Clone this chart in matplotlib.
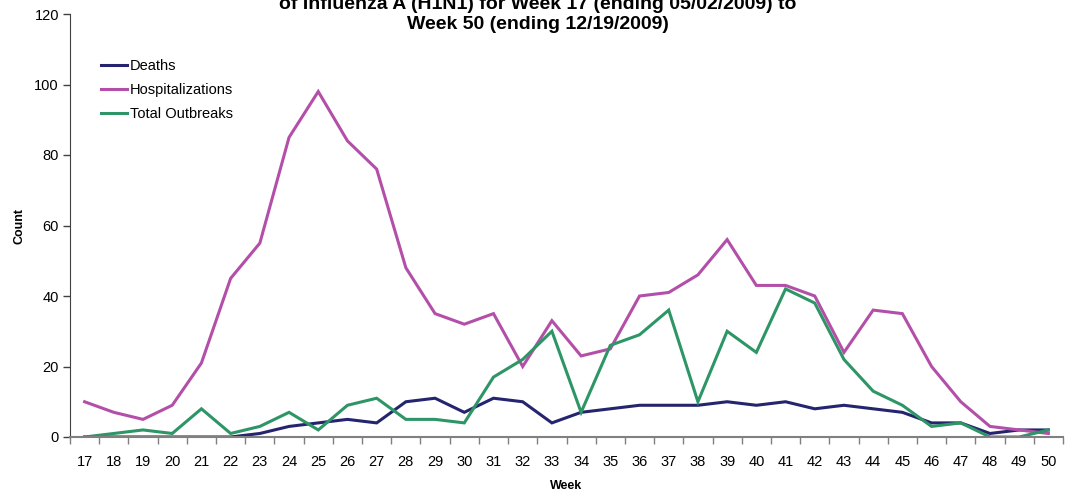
import matplotlib
matplotlib.use("Agg")
import matplotlib.pyplot as plt
import numpy as np

plt.rcParams['font.family'] = ['Liberation Sans', 'DejaVu Sans']

weeks = [str(w) for w in range(17, 51)]
deaths = [0, 0, 0, 0, 0, 0, 1, 3, 4, 5, 4, 10, 11, 7, 11, 10, 4,
          7, 8, 9, 9, 9, 10, 9, 10, 8, 9, 8, 7, 4, 4, 1, 2, 2]
hospitalizations = [10, 7, 5, 9, 21, 45, 55, 85, 98, 84, 76, 48, 35, 32, 35, 20, 33,
                    23, 25, 40, 41, 46, 56, 43, 43, 40, 24, 36, 35, 20, 10, 3, 2, 1]
outbreaks = [0, 1, 2, 1, 8, 1, 3, 7, 2, 9, 11, 5, 5, 4, 17, 22, 30,
             7, 26, 29, 36, 10, 30, 24, 42, 38, 22, 13, 9, 3, 4, 0, 0, 2]
series_names = ["Deaths", "Hospitalizations", "Total Outbreaks"]
yticks = [0, 20, 40, 60, 80, 100, 120]
title = ("Number of Confirmed Cases\n"
         "of Influenza A (H1N1) for Week 17 (ending 05/02/2009) to\n"
         "Week 50 (ending 12/19/2009)")

fig = plt.figure(figsize=(10.65, 5.0), dpi=100)
ax = fig.add_axes([70/1065, 1-437/500, 993/1065, 423/500])

x = np.arange(len(weeks))
colors = ["#25256F", "#B44FA9", "#2E9566"]
for vals, name, c in zip([deaths, hospitalizations, outbreaks], series_names, colors):
    ax.plot(x, vals, color=c, lw=2.2, label=name, solid_joinstyle='miter')

ax.set_xlim(-0.5, len(weeks) - 0.5)
ax.set_ylim(0, 120)
ax.set_yticks(yticks)
ax.set_yticklabels([str(t) for t in yticks], fontsize=10.5)
ax.set_xticks(x)
ax.set_xticklabels(weeks, fontsize=10.5)
ax.set_xticks(np.arange(len(weeks) + 1) - 0.5, minor=True)
ax.tick_params(axis='x', which='major', length=0, pad=13)
ax.tick_params(axis='x', which='minor', length=5, width=1, color='#808080', direction='out')
ax.tick_params(axis='y', length=5, width=1, color='#404040', direction='out', pad=3)

for s in ['top', 'right']:
    ax.spines[s].set_visible(False)
ax.spines['left'].set_color('#404040')
ax.spines['bottom'].set_color('#808080')
ax.spines['bottom'].set_linewidth(1.5)

ax.set_ylabel("Count", fontsize=9, fontweight='bold', labelpad=6)
ax.set_xlabel("Week", fontsize=9, fontweight='bold', labelpad=8)

leg = ax.legend(loc='upper left', bbox_to_anchor=(0.018, 0.925), frameon=False,
                fontsize=10.5, handlelength=1.8, handletextpad=0.2, labelspacing=0.7)

fig.text(0.505, 1 - 33/500, title, ha='center', va='bottom', fontsize=14,
         fontweight='bold', linespacing=1.2)

fig.savefig("out.png", dpi=100)
